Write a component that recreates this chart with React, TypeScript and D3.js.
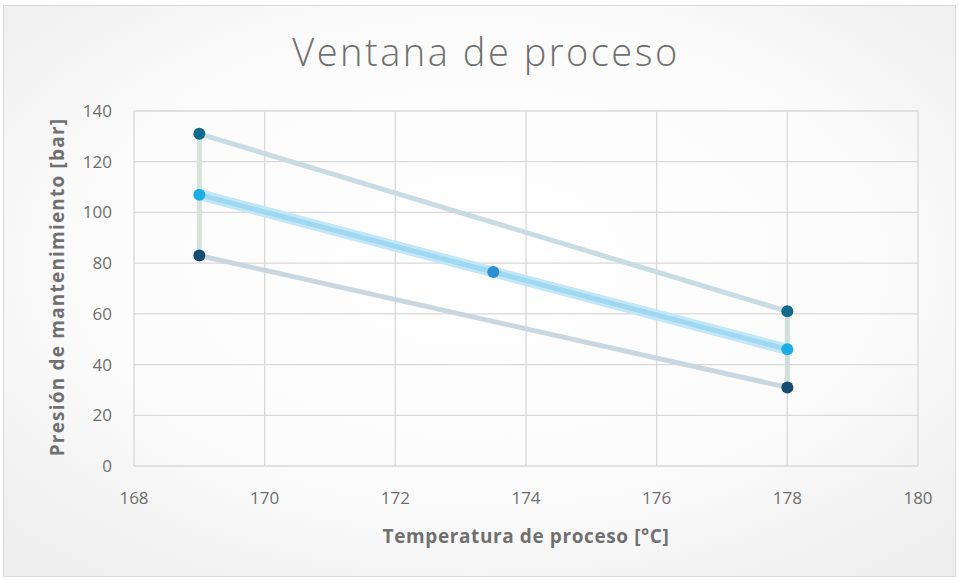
import React from "react";
import * as d3 from "d3";

const xTicks = [168, 170, 172, 174, 176, 178, 180];
const yTicks = [0, 20, 40, 60, 80, 100, 120, 140];
const upperX = [169, 178];
const upperY = [131, 61];
const middleX = [169, 173.5, 178];
const middleY = [107, 76.5, 46];
const lowerX = [169, 178];
const lowerY = [83, 31];

const W = 959, H = 580;
const font = "'Open Sans', Lato, sans-serif";

export default function App() {
  const x = d3.scaleLinear().domain([168, 180]).range([134, 918]);
  const y = d3.scaleLinear().domain([0, 140]).range([466, 111]);
  const line = d3.line<[number, number]>().x(d => x(d[0])).y(d => y(d[1]));
  const upper = upperX.map((v, i) => [v, upperY[i]] as [number, number]);
  const middle = middleX.map((v, i) => [v, middleY[i]] as [number, number]);
  const lower = lowerX.map((v, i) => [v, lowerY[i]] as [number, number]);
  return (
    <svg width={W} height={H} style={{ position: "absolute", left: 0, top: 0 }}>
      <defs>
        <radialGradient id="bg" cx="50%" cy="45%" r="70%">
          <stop offset="0%" stopColor="#ffffff" />
          <stop offset="60%" stopColor="#fbfbfb" />
          <stop offset="100%" stopColor="#eeeeee" />
        </radialGradient>
      </defs>
      <rect x={3.5} y={5.5} width={W - 7} height={H - 9} fill="url(#bg)" stroke="#d9d9d9" />
      <text x={486} y={66} textAnchor="middle" fontFamily={font} fontSize={38} fontWeight={300} fill="#707070" letterSpacing={2.5}>Ventana de proceso</text>
      {yTicks.map(t => (
        <g key={"y" + t}>
          <line x1={134} x2={918} y1={y(t)} y2={y(t)} stroke="#d9d9d9" strokeWidth={1.3} />
          <text x={112} y={y(t) + 6} textAnchor="end" fontFamily={font} fontSize={17} fill="#6e6e6e">{t}</text>
        </g>
      ))}
      {xTicks.map(t => (
        <g key={"x" + t}>
          <line x1={x(t)} x2={x(t)} y1={y(0)} y2={y(140)} stroke="#d9d9d9" strokeWidth={1.3} />
          <text x={x(t)} y={504} textAnchor="middle" fontFamily={font} fontSize={17} fill="#6e6e6e">{t}</text>
        </g>
      ))}
      <text x={526} y={543} textAnchor="middle" fontFamily={font} fontSize={19} fontWeight={700} fill="#707070" letterSpacing={0.6}>Temperatura de proceso [°C]</text>
      <text transform={`translate(64,${287}) rotate(-90)`} textAnchor="middle" fontFamily={font} fontSize={19} fontWeight={700} fill="#707070" letterSpacing={1.2}>Presión de mantenimiento [bar]</text>
      <line x1={x(169)} x2={x(169)} y1={y(upperY[0])} y2={y(lowerY[0])} stroke="#d4e4da" strokeWidth={5} />
      <line x1={x(178)} x2={x(178)} y1={y(upperY[1])} y2={y(lowerY[1])} stroke="#cfe0db" strokeWidth={5} />
      <path d={line(upper) || ""} fill="none" stroke="#c9dce4" strokeWidth={5} />
      <path d={line(lower) || ""} fill="none" stroke="#cbd7e0" strokeWidth={5} />
      <path d={line(middle) || ""} fill="none" stroke="#c3e7f7" strokeWidth={11} />
      <path d={line(middle) || ""} fill="none" stroke="#9fd8f1" strokeWidth={5} />
      {upper.map((d, i) => <circle key={"u" + i} cx={x(d[0])} cy={y(d[1])} r={6} fill="#0f6a8b" />)}
      {lower.map((d, i) => <circle key={"l" + i} cx={x(d[0])} cy={y(d[1])} r={6} fill="#164b73" />)}
      {middle.map((d, i) => <circle key={"m" + i} cx={x(d[0])} cy={y(d[1])} r={6} fill={i === 1 ? "#2b8fd5" : "#1badE5"} />)}
    </svg>
  );
}
